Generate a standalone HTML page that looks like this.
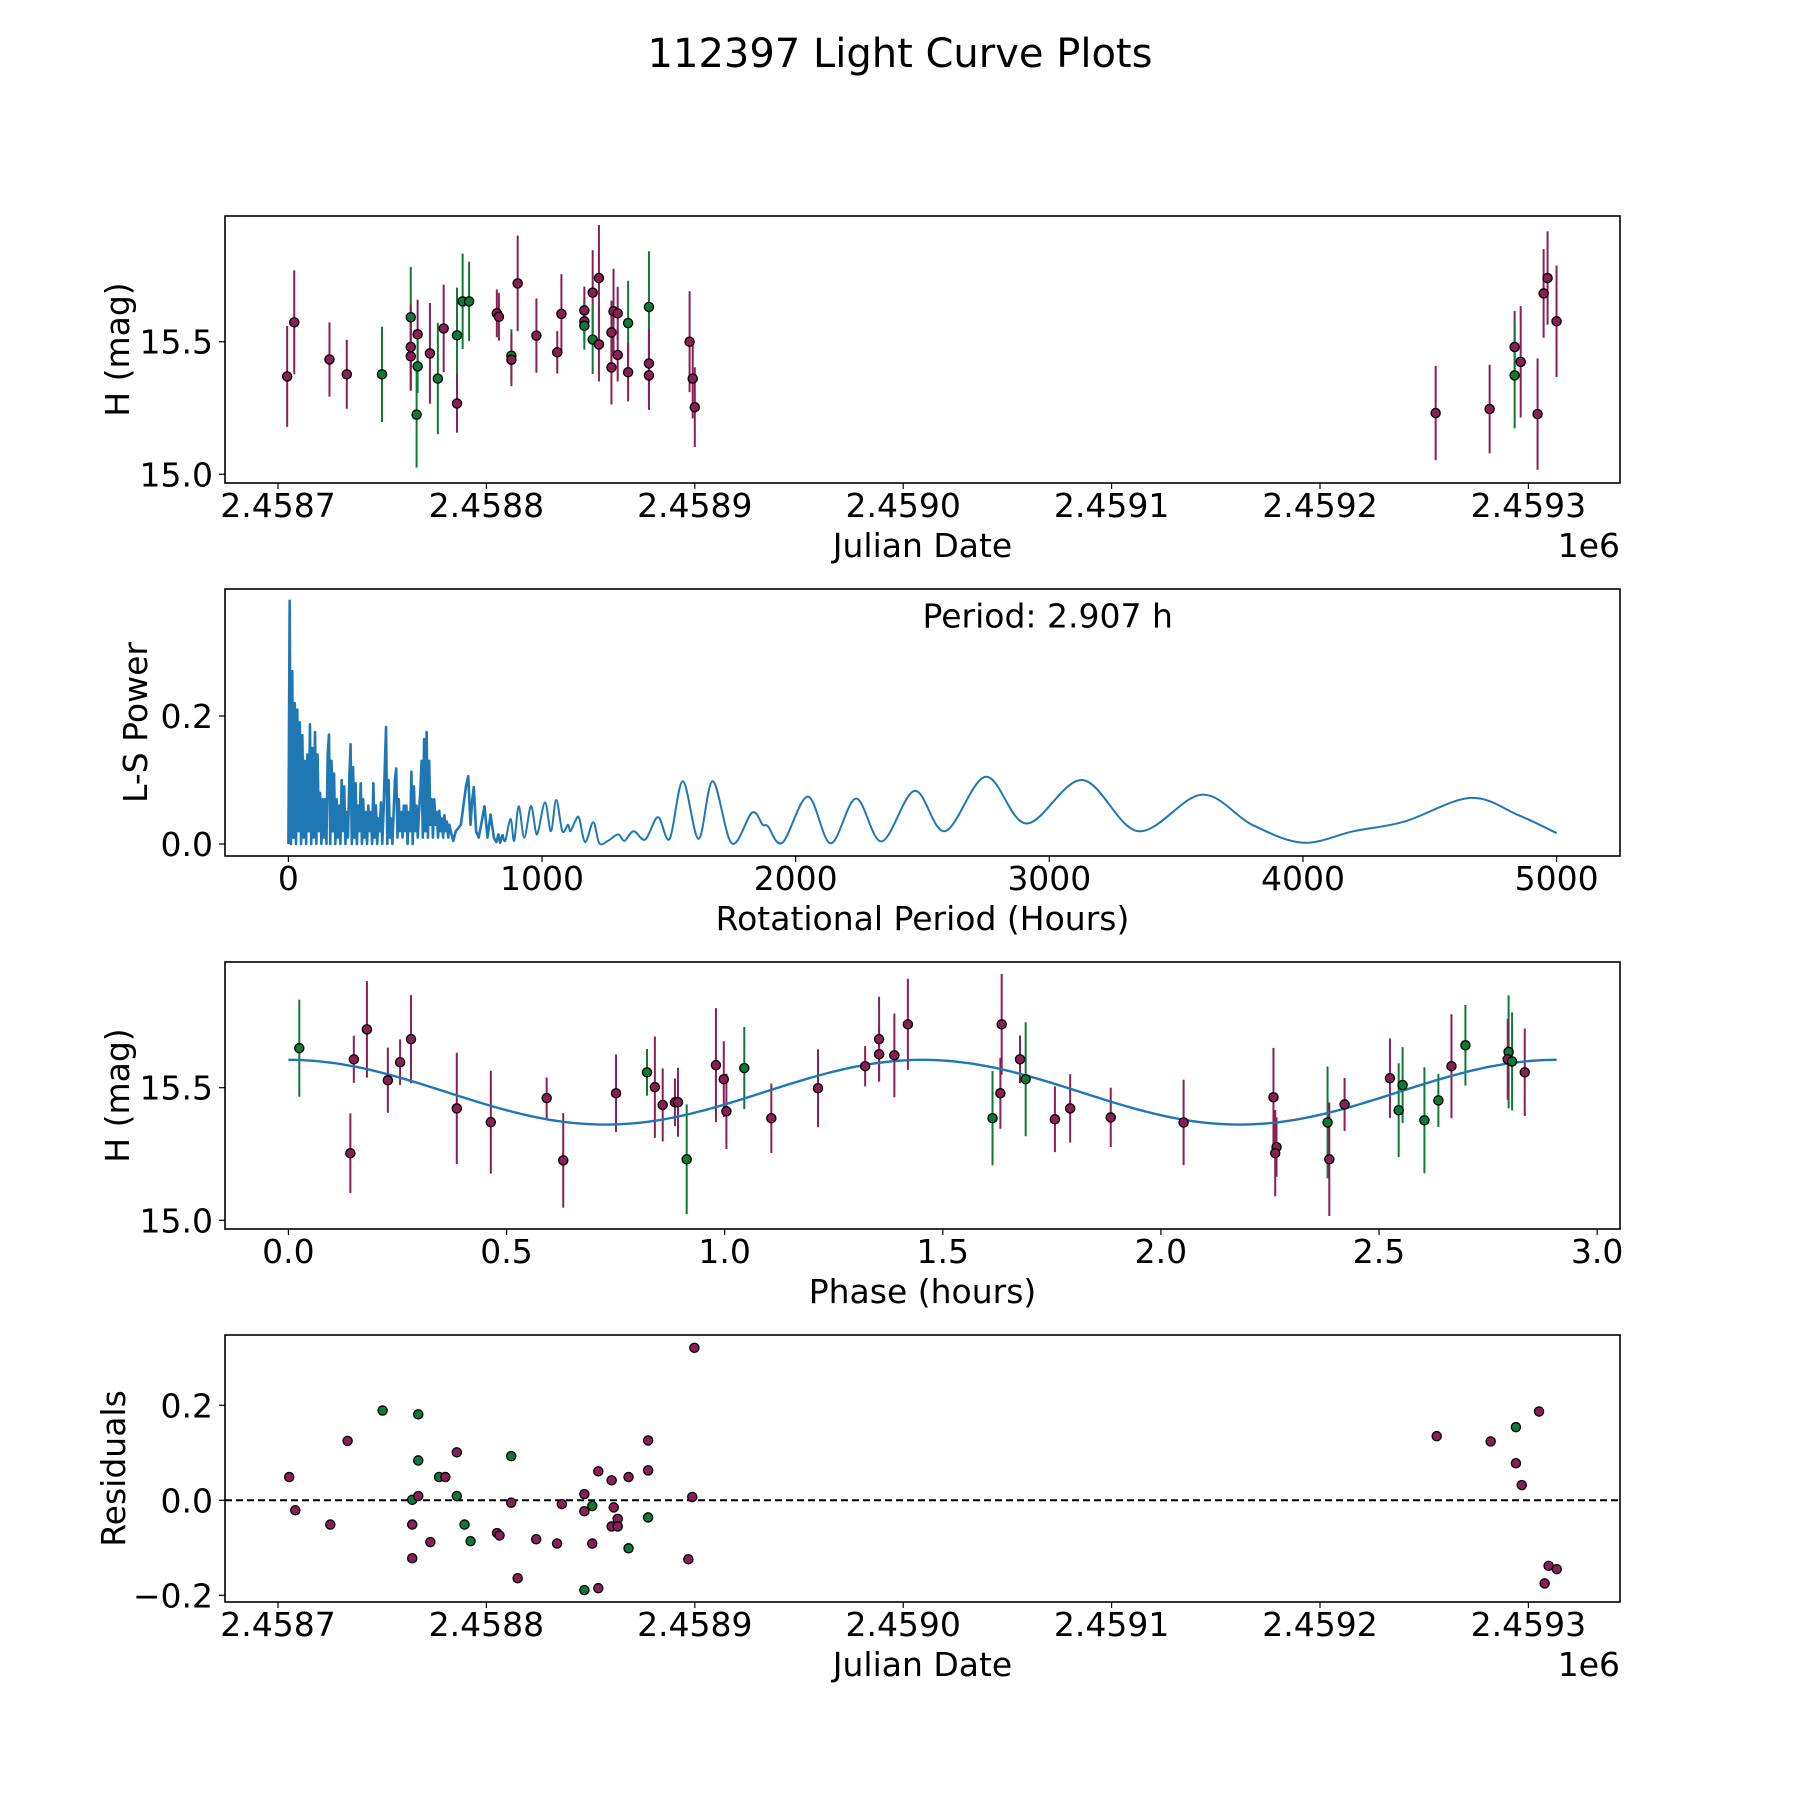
<!DOCTYPE html>
<html><head><meta charset="utf-8"><title>112397 Light Curve Plots</title>
<style>
html,body{margin:0;padding:0;background:#fff;}
svg{display:block;font-family:"DejaVu Sans","Liberation Sans",sans-serif;}
</style></head>
<body>
<svg id="fig" width="1800" height="1800" viewBox="0 0 1800 1800" xmlns="http://www.w3.org/2000/svg">
<rect x="0" y="0" width="1800" height="1800" fill="#fff"/>
<text x="900" y="67" font-size="40" text-anchor="middle">112397 Light Curve Plots</text>
</svg>
<script>
// ---------- Panel 1 data: Julian date light curve ----------
const lcJd = [2458704.4,2458707.8,2458724.7,2458733,2458749.9,2458763.7,2458763.7,2458763.7,2458767,2458767,2458766.5,2458772.9,2458776.7,2458779.5,2458785.9,2458785.9,2458788.6,2458791.7,2458805,2458806,2458812,2458812,2458815,2458824,2458834,2458836,2458847,2458847,2458847,2458851,2458851,2458854,2458854,2458860,2458860,2458861,2458863,2458863,2458868,2458868,2458878,2458878,2458878,2458897.5,2458899,2458900,
 2459255.5,2459281.4,2459293.4,2459293.4,2459296.3,2459304.4,2459307.3,2459309.2,2459313.5];
const lcMag = [15.369,15.573,15.433,15.377,15.377,15.592,15.48,15.445,15.528,15.407,15.225,15.456,15.361,15.55,15.524,15.267,15.652,15.652,15.607,15.594,15.447,15.432,15.72,15.523,15.46,15.605,15.618,15.577,15.56,15.685,15.508,15.74,15.49,15.535,15.403,15.615,15.607,15.45,15.57,15.385,15.631,15.418,15.373,15.5,15.361,15.253,
 15.231,15.246,15.48,15.373,15.424,15.227,15.682,15.74,15.577];
const lcErr = [0.19,0.196,0.14,0.13,0.18,0.19,0.16,0.13,0.13,0.1,0.2,0.19,0.21,0.165,0.18,0.11,0.18,0.15,0.09,0.09,0.1,0.1,0.18,0.14,0.08,0.15,0.09,0.08,0.09,0.16,0.13,0.2,0.14,0.12,0.14,0.16,0.1,0.1,0.16,0.11,0.21,0.13,0.13,0.19,0.15,0.15,
 0.178,0.167,0.136,0.2,0.21,0.21,0.167,0.176,0.21];
const lcBand = ['p','p','p','p','g','g','p','p','p','g','g','p','g','p','g','p','g','g','p','p','g','p','p','p','p','p','p','p','g','p','g','p','p','p','p','p','p','p','g','p','g','p','p','p','p','p',
 'p','p','p','g','p','p','p','p','p'];

// ---------- Panel 2 data: Lomb-Scargle periodogram ----------
const densePeriod = [0,5,10,15,20,25,30,35,40,45,50,55,60,65,70,75,80,85,90,95,100,105,110,115,120,125,130,135,140,145,150,155,160,165,170,175,180,185,190,195,200,205,210,215,220,225,230,235,240,245,250,255,260,265,270,275,280,285,290,295,300,305,310,315,320,325,330,335,340,345,350,355,360,365,370,375,380,385,390,395,400,405,410,415,420,425,430,435,440,445,450,455,460,465,470,475,480,485,490,495,500,505,510,515,520,525,530,535,540,545,550,555,560,565,570,575,580,585,590,595,600,605,610,615,620,625,630,635,640,650,660,670,680,690,700,709,718,725,731,740,750,760,773,785,797,810,820,828,835,845];
const densePower = [0.0,0.38,0.0,0.27,0.01,0.22,0.0,0.21,0.02,0.19,0.0,0.17,0.01,0.13,0.0,0.14,0.02,0.187,0.0,0.15,0.01,0.175,0.0,0.14,0.02,0.08,0.0,0.07,0.01,0.07,0.0,0.14,0.171,0.0,0.13,0.02,0.11,0.0,0.07,0.01,0.06,0.0,0.1,0.02,0.09,0.0,0.05,0.01,0.1,0.156,0.0,0.12,0.01,0.095,0.0,0.06,0.02,0.095,0.0,0.07,0.01,0.05,0.0,0.06,0.02,0.05,0.0,0.095,0.01,0.06,0.0,0.04,0.02,0.065,0.0,0.05,0.12,0.183,0.0,0.1,0.01,0.04,0.0,0.05,0.1,0.118,0.01,0.07,0.02,0.05,0.01,0.06,0.02,0.06,0.0,0.05,0.02,0.113,0.0,0.09,0.02,0.06,0.01,0.05,0.08,0.13,0.01,0.164,0.02,0.175,0.01,0.13,0.03,0.07,0.01,0.07,0.03,0.05,0.01,0.052,0.02,0.04,0.01,0.045,0.02,0.035,0.01,0.03,0.02,0.005,0.02,0.025,0.03,0.06,0.09,0.106,0.03,0.07,0.089,0.02,0.01,0.03,0.059,0.01,0.046,0.01,0.003,0.015,0.002,0.015];
const smoothPeriod = [845,855,876,890,908,930,956,975,985,1012,1035,1056,1080,1102,1112,1130,1146,1170,1202,1226,1260,1300,1325,1361,1407,1457,1503,1555,1617,1673,1748,1828,1870,1890,1948,2048,2138,2238,2339,2469,2589,2750,2910,3130,3350,3600,3800,4000,4200,4400,4660,4850,5000];
const smoothPower = [0.015,0.005,0.039,0.005,0.059,0.01,0.059,0.02,0.02,0.065,0.02,0.069,0.02,0.03,0.02,0.035,0.041,0.003,0.034,0.001,0.005,0.015,0.005,0.02,0.007,0.042,0.008,0.098,0.008,0.098,0.001,0.049,0.03,0.028,0.002,0.074,0.001,0.071,0.004,0.083,0.02,0.105,0.032,0.10,0.02,0.077,0.03,0.002,0.02,0.035,0.072,0.045,0.017];

// ---------- Panel 3 data: folded phase curve ----------
const phPhase = [0.025,0.150,0.142,0.180,0.228,0.256,0.281,0.386,0.464,0.592,0.630,0.751,0.822,0.840,0.858,0.886,0.893,0.913,0.980,0.998,1.004,1.045,1.107,1.214,1.322,1.354,1.354,1.389,1.420,
 1.635,1.632,1.614,1.677,1.690,1.757,1.792,1.885,2.052,2.258,2.265,2.262,2.382,2.386,2.421,2.525,2.545,2.554,2.604,2.636,2.666,2.698,2.797,2.795,2.805,2.834];
const phMag = [15.649,15.607,15.253,15.720,15.528,15.596,15.683,15.422,15.370,15.461,15.226,15.479,15.558,15.502,15.435,15.445,15.445,15.230,15.585,15.532,15.411,15.574,15.385,15.498,15.581,15.683,15.626,15.622,15.739,
 15.739,15.479,15.385,15.607,15.532,15.381,15.422,15.388,15.369,15.464,15.276,15.253,15.369,15.230,15.437,15.536,15.415,15.510,15.377,15.452,15.581,15.660,15.635,15.607,15.599,15.558];
const phErr = [0.183,0.089,0.15,0.182,0.123,0.086,0.166,0.21,0.194,0.077,0.178,0.146,0.088,0.191,0.138,0.09,0.13,0.207,0.215,0.143,0.142,0.155,0.131,0.147,0.076,0.16,0.1,0.158,0.172,
 0.19,0.134,0.178,0.09,0.215,0.124,0.129,0.112,0.161,0.186,0.112,0.163,0.211,0.214,0.1,0.15,0.177,0.143,0.2,0.1,0.196,0.152,0.213,0.153,0.185,0.165];
const phBand = ['g','p','p','p','p','p','p','p','p','p','p','p','g','p','p','p','p','g','p','p','p','g','p','p','p','p','p','p','p',
 'p','p','g','p','g','p','p','p','p','p','p','p','g','p','p','p','g','g','g','g','p','g','g','p','g','p'];
const fitPeriod = [2.907];
const fitMean = [15.483];
const fitAmp = [0.122];

// ---------- Panel 4 data: residuals ----------
const resJd = [2458705.4,2458708.3,2458725.1,2458733.4,2458750.2,2458764.4,2458764.4,2458764.4,2458767.3,2458767.3,2458767.3,2458773.1,2458777.3,2458780.3,2458785.8,2458785.8,2458789.5,2458792.4,2458805.1,2458806.3,2458811.9,2458811.9,2458815,2458823.9,2458833.9,2458836.2,2458847,2458847,2458847,2458850.8,2458850.8,2458853.7,2458853.7,2458860.1,2458860.1,2458861.1,2458863,2458863,2458868.2,2458868.2,2458877.6,2458877.6,2458877.6,2458896.9,2458898.8,2458899.8,
 2459256,2459281.9,2459294,2459294,2459296.8,2459305.1,2459307.8,2459309.7,2459313.6];
const resVal = [0.049,-0.021,-0.051,0.125,0.189,0.001,-0.051,-0.122,0.181,0.084,0.009,-0.088,0.049,0.049,0.101,0.009,-0.051,-0.086,-0.069,-0.074,0.093,-0.005,-0.164,-0.082,-0.091,-0.008,0.013,-0.023,-0.189,-0.012,-0.091,0.061,-0.185,0.042,-0.055,-0.015,-0.039,-0.055,0.049,-0.101,0.126,0.063,-0.036,-0.124,0.007,0.321,
 0.135,0.124,0.154,0.078,0.032,0.187,-0.175,-0.138,-0.145];
const resBand = ['p','p','p','p','g','g','p','p','g','g','p','p','g','p','p','g','g','g','p','p','g','p','p','p','p','p','p','p','g','g','p','p','p','p','p','p','p','p','p','g','p','p','g','p','p','p',
 'p','p','g','p','p','p','p','p','p'];

// ---------- tick labels ----------
const jdTicks = [2458700,2458800,2458900,2459000,2459100,2459200,2459300];
const jdTickLabels = ['2.4587','2.4588','2.4589','2.4590','2.4591','2.4592','2.4593'];
const magTicks = [15.0,15.5];
const magTickLabels = ['15.0','15.5'];
const perTicks = [0,1000,2000,3000,4000,5000];
const perTickLabels = ['0','1000','2000','3000','4000','5000'];
const powTicks = [0.0,0.2];
const powTickLabels = ['0.0','0.2'];
const phTicks = [0,0.5,1,1.5,2,2.5,3];
const phTickLabels = ['0.0','0.5','1.0','1.5','2.0','2.5','3.0'];
const resTicks = [-0.2,0.0,0.2];
const resTickLabels = ['\u22120.2','0.0','0.2'];

const NS = 'http://www.w3.org/2000/svg';
const svg = document.getElementById('fig');
const COL = {p:'#8a1f55', g:'#0f7a35'};
const L = 225, R = 1620;
const FS = 33;
function mk(tag, attrs, parent){
  const e = document.createElementNS(NS, tag);
  for (const k in attrs) e.setAttribute(k, attrs[k]);
  (parent||svg).appendChild(e);
  return e;
}
function lin(d0,d1,r0,r1){ return v => r0 + (v-d0)/(d1-d0)*(r1-r0); }

function axesFrame(top,bottom,name){
  const g = mk('g',{});
  
  
  return g;
}
function drawBox(g,top,bottom){
  const r = mk('rect',{x:L,y:top,width:R-L,height:bottom-top,fill:'none',stroke:'#000','stroke-width':1.6},g);
  
  
}
function xTicks(g,bottom,sx,ticks,labels){
  ticks.forEach((t,i)=>{
    const x = sx(t);
    mk('line',{x1:x,x2:x,y1:bottom,y2:bottom+6,stroke:'#000','stroke-width':1.2},g);
    const tx = mk('text',{x:x,y:bottom+34,'font-size':FS,'text-anchor':'middle'},g);
    
    
    tx.textContent = labels[i];
  });
}
function yTicks(g,sy,ticks,labels){
  ticks.forEach((t,i)=>{
    const y = sy(t);
    mk('line',{x1:L-6,x2:L,y1:y,y2:y,stroke:'#000','stroke-width':1.2},g);
    const tx = mk('text',{x:L-12,y:y+12,'font-size':FS,'text-anchor':'end'},g);
    
    
    tx.textContent = labels[i];
  });
}
function xLabel(g,bottom,text,name){
  const t = mk('text',{x:(L+R)/2,y:bottom+74,'font-size':FS,'text-anchor':'middle'},g);
  
  
  t.textContent = text;
}
function yLabel(g,top,bottom,x,text,name){
  const cy=(top+bottom)/2;
  const t = mk('text',{x:x,y:cy,'font-size':FS,'text-anchor':'middle',transform:'rotate(-90 '+x+' '+cy+')'},g);
  
  
  t.textContent = text;
}
function offsetLabel(g,bottom){
  const t = mk('text',{x:R,y:bottom+74,'font-size':FS,'text-anchor':'end'},g);
  
  
  t.textContent = '1e6';
}
function marker(g,x,y,band){
  const c = mk('circle',{cx:x,cy:y,r:4.6,fill:COL[band],stroke:'#000','stroke-width':1.3},g);
  
  
}
function errbar(g,x,y1,y2,band){
  const l = mk('line',{x1:x,x2:x,y1:y1,y2:y2,stroke:COL[band],'stroke-width':2},g);
  
  
}

// ---------- Panel 1 ----------
(function(){
  const top=216,bottom=483;
  const sx = lin(2458700,2459300,278,1528.4);
  const sy = lin(15.0,15.5,474.3,341.7);
  const g = axesFrame(top,bottom,'light-curve-panel');
  lcJd.forEach((d,i)=>errbar(g,sx(d),sy(lcMag[i]+lcErr[i]),sy(lcMag[i]-lcErr[i]),lcBand[i]));
  lcJd.forEach((d,i)=>marker(g,sx(d),sy(lcMag[i]),lcBand[i]));
  drawBox(g,top,bottom);
  xTicks(g,bottom,sx,jdTicks,jdTickLabels);
  yTicks(g,sy,magTicks,magTickLabels);
  xLabel(g,bottom,'Julian Date','x-axis-title-julian-date');
  offsetLabel(g,bottom);
  yLabel(g,top,bottom,129,'H (mag)','y-axis-title-mag');
})();

// ---------- Panel 2 ----------
(function(){
  const top=589,bottom=856;
  const sx = lin(0,5000,288.4,1556.6);
  const sy = lin(0,0.2,844,716);
  const g = axesFrame(top,bottom,'periodogram-panel');
  let d = '';
  densePeriod.forEach((p,i)=>{ d += (i?'L':'M') + sx(p).toFixed(2)+','+sy(densePower[i]).toFixed(2); });
  const dl = mk('path',{d:d,fill:'none',stroke:'#1f77b4','stroke-width':2.6,'stroke-linejoin':'round'},g);
  
  
  const pts = smoothPeriod.map((p,i)=>[sx(p),sy(smoothPower[i])]);
  let s = 'M'+pts[0][0]+','+pts[0][1];
  for (let i=0;i<pts.length-1;i++){
    const p0=pts[Math.max(0,i-1)],p1=pts[i],p2=pts[i+1],p3=pts[Math.min(pts.length-1,i+2)];
    const c1x=p1[0]+(p2[0]-p0[0])/6, c1y=p1[1]+(p2[1]-p0[1])/6;
    const c2x=p2[0]-(p3[0]-p1[0])/6, c2y=p2[1]-(p3[1]-p1[1])/6;
    s += 'C'+c1x.toFixed(2)+','+c1y.toFixed(2)+' '+c2x.toFixed(2)+','+c2y.toFixed(2)+' '+p2[0].toFixed(2)+','+p2[1].toFixed(2);
  }
  const sl = mk('path',{d:s,fill:'none',stroke:'#1f77b4','stroke-width':2},g);
  
  
  drawBox(g,top,bottom);
  xTicks(g,bottom,sx,perTicks,perTickLabels);
  yTicks(g,sy,powTicks,powTickLabels);
  xLabel(g,bottom,'Rotational Period (Hours)','x-axis-title-period');
  yLabel(g,top,bottom,147,'L-S Power','y-axis-title-power');
  const pt = mk('text',{x:922.5,y:627.5,'font-size':33,'text-anchor':'start'},g);
  
  
  pt.textContent = 'Period: ' + fitPeriod[0].toFixed(3) + ' h';
})();

// ---------- Panel 3 ----------
(function(){
  const top=962,bottom=1229;
  const sx = lin(0,2.907,288.4,1556.6);
  const sy = lin(15.0,15.5,1220.3,1087.7);
  const g = axesFrame(top,bottom,'phase-folded-panel');
  phPhase.forEach((p,i)=>errbar(g,sx(p),sy(phMag[i]+phErr[i]),sy(phMag[i]-phErr[i]),phBand[i]));
  let d='';
  const N=300;
  for(let k=0;k<=N;k++){
    const ph = fitPeriod[0]*k/N;
    const m = fitMean[0] + fitAmp[0]*Math.cos(4*Math.PI*ph/fitPeriod[0]);
    d += (k?'L':'M')+sx(ph).toFixed(2)+','+sy(m).toFixed(2);
  }
  const ml = mk('path',{d:d,fill:'none',stroke:'#1f77b4','stroke-width':2.4},g);
  
  
  phPhase.forEach((p,i)=>marker(g,sx(p),sy(phMag[i]),phBand[i]));
  drawBox(g,top,bottom);
  xTicks(g,bottom,sx,phTicks,phTickLabels);
  yTicks(g,sy,magTicks,magTickLabels);
  xLabel(g,bottom,'Phase (hours)','x-axis-title-phase');
  yLabel(g,top,bottom,129,'H (mag)','y-axis-title-mag-phase');
})();

// ---------- Panel 4 ----------
(function(){
  const top=1335,bottom=1602;
  const sx = lin(2458700,2459300,278,1528.4);
  const sy = lin(0,0.2,1500.3,1405.3);
  const g = axesFrame(top,bottom,'residuals-panel');
  const z = mk('line',{x1:L,x2:R,y1:sy(0),y2:sy(0),stroke:'#000','stroke-width':2,'stroke-dasharray':'7,4'},g);
  
  
  resJd.forEach((d,i)=>marker(g,sx(d),sy(resVal[i]),resBand[i]));
  drawBox(g,top,bottom);
  xTicks(g,bottom,sx,jdTicks,jdTickLabels);
  yTicks(g,sy,resTicks,resTickLabels);
  xLabel(g,bottom,'Julian Date','x-axis-title-julian-date-residuals');
  offsetLabel(g,bottom);
  yLabel(g,top,bottom,125,'Residuals','y-axis-title-residuals');
})();
</script>
</body></html>
